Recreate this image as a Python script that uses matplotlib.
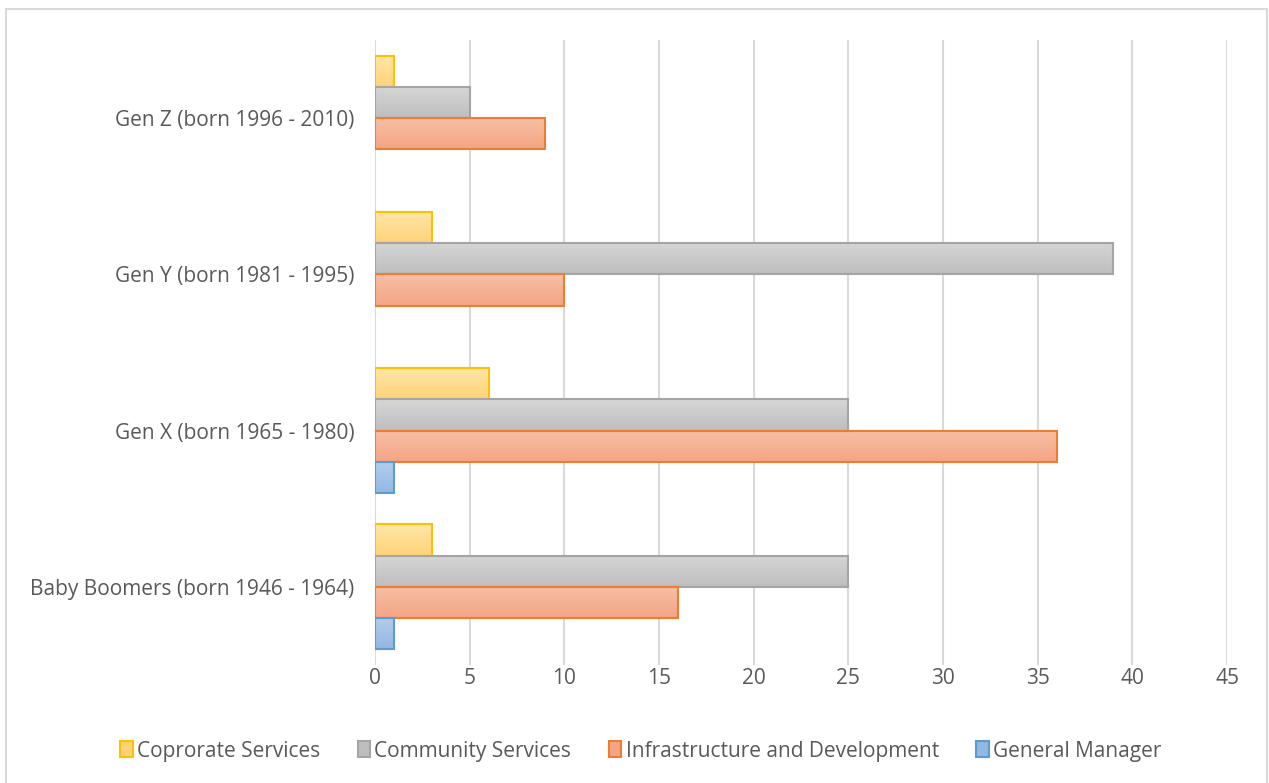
import numpy as np
import matplotlib.pyplot as plt
from matplotlib.patches import Rectangle, Patch
from matplotlib.colors import LinearSegmentedColormap

# data
generations = ["Baby Boomers (born 1946 - 1964)", "Gen X (born 1965 - 1980)",
               "Gen Y (born 1981 - 1995)", "Gen Z (born 1996 - 2010)"]
corporate = [3, 6, 3, 1]
community = [25, 25, 39, 5]
infrastructure = [16, 36, 10, 9]
general_manager = [1, 1, 0, 0]

series = [
    ("Coprorate Services", corporate, "#FFE7A8", "#FFD27A", "#FFC000"),
    ("Community Services", community, "#D6D6D6", "#BEBEBE", "#A5A5A5"),
    ("Infrastructure and Development", infrastructure, "#F7BFA6", "#F4A583", "#ED7D31"),
    ("General Manager", general_manager, "#B4CDEB", "#92B8E3", "#5B9BD5"),
]

plt.rcParams['font.family'] = ['Open Sans', 'DejaVu Sans']
txt = "#595959"
fs = 15

fig = plt.figure(figsize=(12.69, 7.83), dpi=100)
ax = fig.add_axes([375/1269, 1 - 665/783, 852/1269, 625/783])

# рамка диаграммы
fig.patches.append(Rectangle((6/1269, -0.01), 1261/1269, 1 - 9/783 + 0.01,
                             transform=fig.transFigure, fill=False,
                             edgecolor="#D9D9D9", linewidth=1.5))

h = 0.2
y = np.arange(len(generations))
grad = np.linspace(0, 1, 50).reshape(-1, 1)
handles = []
for k, (name, vals, c_top, c_bot, edge) in enumerate(series):
    pos = y + 0.3 - k * h
    vals = np.array(vals, dtype=float)
    keep = vals > 0
    bars = ax.barh(pos[keep], vals[keep], height=h, color="none", edgecolor=edge,
                   linewidth=1.5, zorder=4)
    cmap = LinearSegmentedColormap.from_list("g", [c_bot, c_top])
    for b in bars:
        x0, y0 = b.get_x(), b.get_y()
        im = ax.imshow(grad, extent=[x0, x0 + b.get_width(), y0, y0 + h],
                       aspect="auto", cmap=cmap, origin="lower", zorder=3)
        im.set_clip_path(b)
    handles.append(Patch(facecolor=c_bot, edgecolor=edge, linewidth=1.5, label=name))

ax.set_xlim(0, 45)
ax.set_ylim(-0.5, 3.5)
ax.set_xticks(np.arange(0, 46, 5))
ax.set_yticks(y)
ax.set_yticklabels(generations)
ax.tick_params(length=0, labelsize=fs, colors=txt)
ax.tick_params(axis="y", pad=15)
ax.tick_params(axis="x", pad=2)
ax.grid(axis="x", color="#D9D9D9", linewidth=1.5, zorder=0)
ax.set_axisbelow(True)
for s in ax.spines.values():
    s.set_visible(False)

leg = fig.legend(handles=handles, loc="center", bbox_to_anchor=(0.505, 1 - 751/783), ncol=4,
                 frameon=False, fontsize=fs, handlelength=0.6, handleheight=0.8,
                 handletextpad=0.2, columnspacing=1.8)
for t in leg.get_texts():
    t.set_color(txt)

fig.savefig("out.png", dpi=100)
